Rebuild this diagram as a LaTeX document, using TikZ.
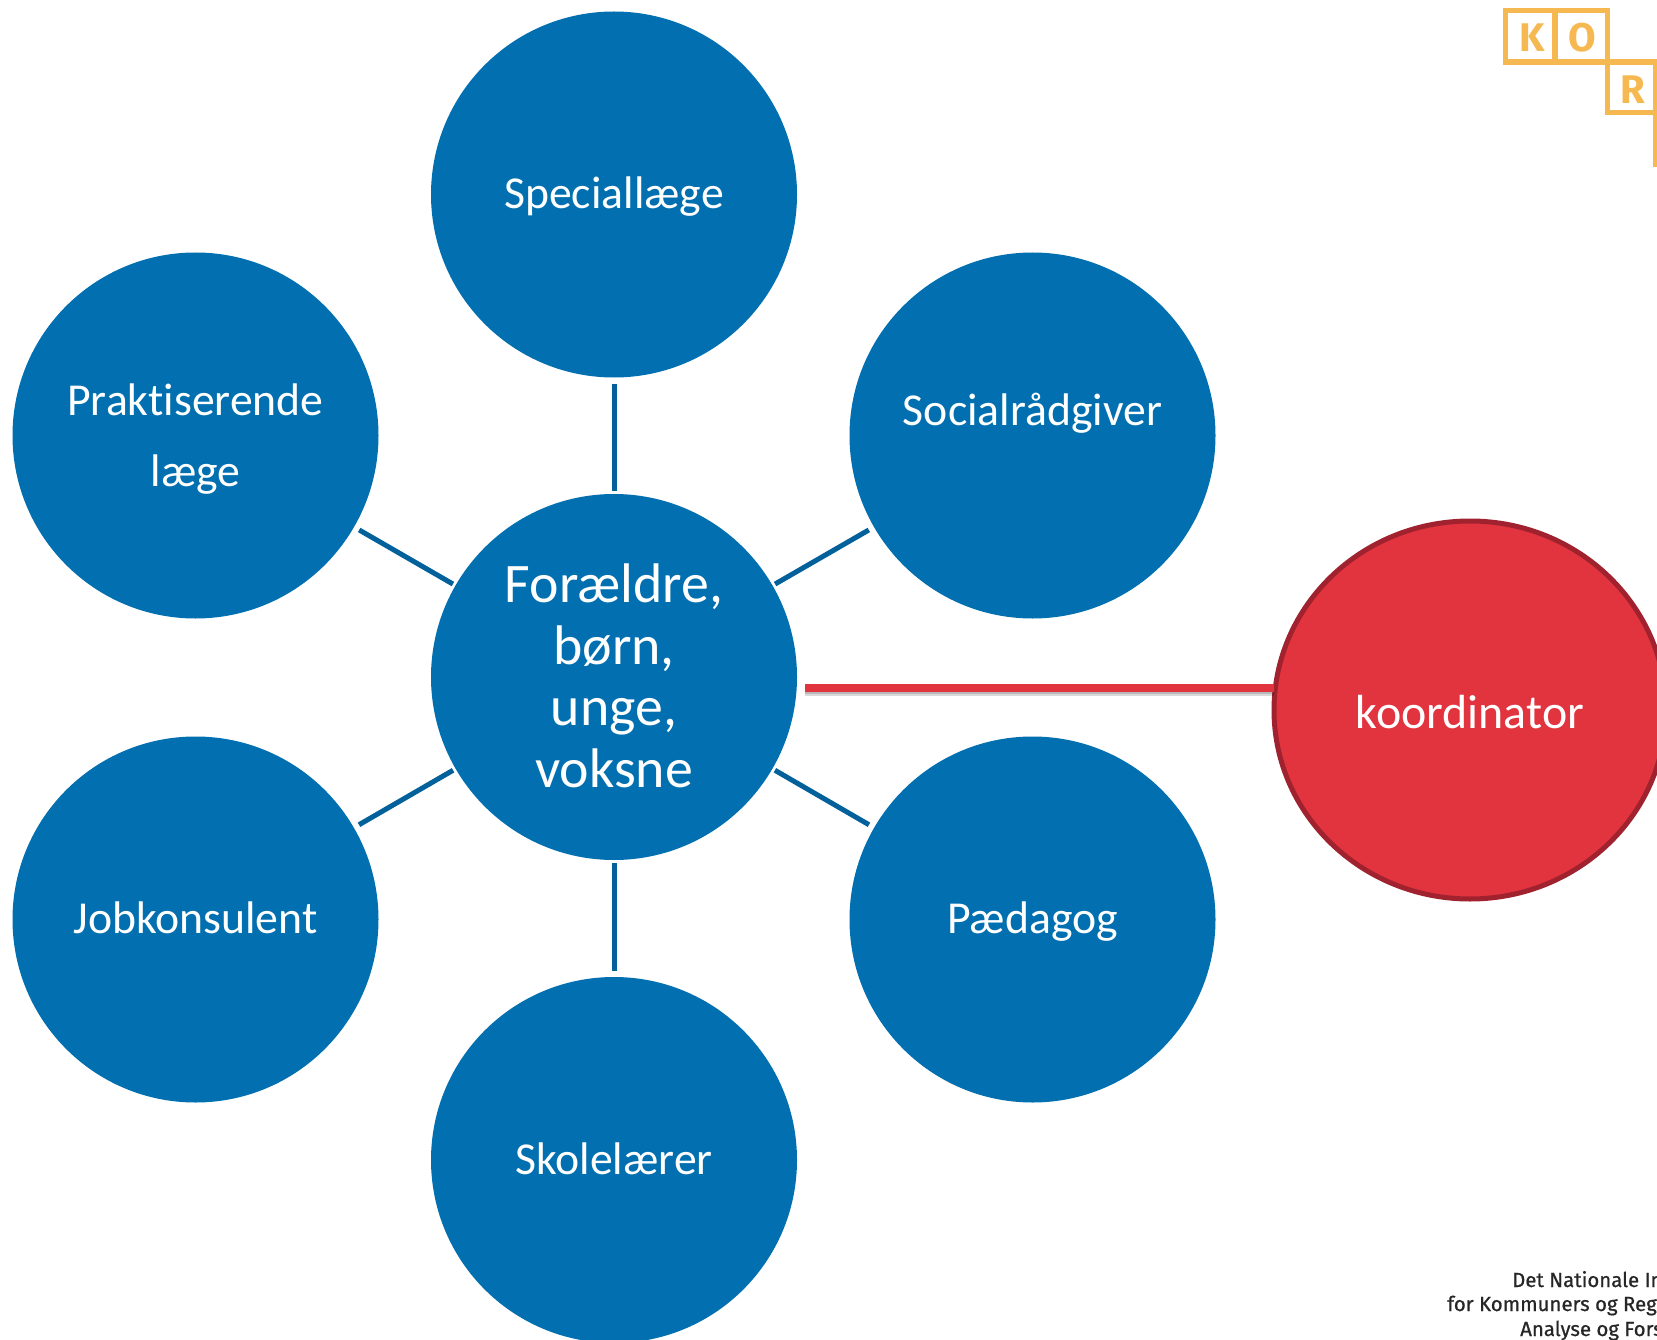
\documentclass[tikz,border=0pt]{standalone}
\usepackage{fontspec}
\setmainfont[Ligatures=NoCommon]{Carlito}
\newfontfamily\logofont{Fira Sans}
\newfontfamily\footfont[FakeBold=0.7]{Fira Sans}
\usetikzlibrary{shapes.geometric,calc}
\definecolor{hubblue}{HTML}{0270B0}
\definecolor{linkblue}{HTML}{02609A}
\definecolor{redfill}{HTML}{E2343F}
\definecolor{redline}{HTML}{A0222E}
\definecolor{korgold}{HTML}{F6B952}
\definecolor{textdark}{HTML}{262626}
\tikzset{
  x=1pt,y=-1pt,
  role/.style={circle,fill=hubblue,text=white,minimum size=366pt,inner sep=0pt,outer sep=0pt,align=center,
    font=\fontsize{45.7}{71}\selectfont},
  oneline/.style={text height=34pt,text depth=6pt},
  hubnode/.style={role,font=\fontsize{55.8}{61.6}\selectfont},
  coord/.style={ellipse,fill=redfill,draw=redline,line width=5pt,text=white,minimum width=392pt,minimum height=378pt,
    inner sep=0pt,outer sep=0pt,align=center,text height=38pt,text depth=1pt,font=\fontsize{47.9}{54}\selectfont},
  link/.style={draw=linkblue,line width=5pt},
  redlink/.style={draw=redfill,line width=8pt},
  redshadow/.style={draw=black,line width=6pt,opacity=.15},
  logobox/.style={draw=korgold,line width=5.5pt},
  logoletter/.style={text=korgold,inner sep=0pt,font=\logofont\bfseries\fontsize{40}{40}\selectfont},
  foot/.style={anchor=base west,inner sep=0pt,text=textdark,font=\footfont\fontsize{20.4}{22}\selectfont},
}
\begin{document}
\begin{tikzpicture}
\useasboundingbox (0,0) rectangle (1657,1340);
\clip (0,0) rectangle (1657,1340);
\fill[white] (0,0) rectangle (1657,1340);

\node[hubnode] (hub) at (614,677) {Forældre,\\børn,\\unge,\\voksne\rule[-3pt]{0pt}{3pt}};
\node[role,oneline] (top) at (614,194.5) {Speciallæge};
\node[role] (tl) at (195.5,435.5) {\rule{0pt}{39pt}Praktiserende\\læge};
\node[role] (tr) at (1032.5,435.5) {Socialrådgiver\\[-19pt]\mbox{}};
\node[role,oneline] (bl) at (195.5,919.5) {Jobkonsulent};
\node[role,oneline] (br) at (1032.5,919.5) {Pædagog};
\node[role,oneline] (bot) at (614,1160) {Skolelærer};
\node[coord] (koord) at (1470,710) {koordinator};

\foreach \t in {top,tl,tr,bl,br,bot}
  \draw[link,shorten <=3pt,shorten >=6pt] (hub) -- (\t);

\coordinate (redstart) at ([shift={(8,11)}]hub.east);
\draw[redshadow] ([yshift=-3pt]redstart) -- ([yshift=-3pt]redstart -| koord.west);
\draw[redshadow] ([yshift=-4.5pt]redstart) -- ([yshift=-4.5pt]redstart -| koord.west);
\draw[redlink] (redstart) -- (redstart -| koord.west);

% KOR logo
\draw[logobox] (1505.5,10.5) rectangle (1555,62);
\draw[logobox] (1555,10.5) rectangle (1607.5,62);
\draw[logobox] (1607.5,62) rectangle (1656,112.5);
\draw[logobox] (1656,112.5) -- (1656,167);
\node[logoletter] (k) at (1532,37.5) {K};
\node[logoletter] (o) at (1582,37.5) {O};
\node[logoletter] (r) at (1633,90) {R};

\node[foot] (f1) at (1512,1287) {Det Nationale In};
\node[foot] (f2) at (1447,1311) {for Kommuners og Reg};
\node[foot] (f3) at (1520,1336) {Analyse og Fors};
\end{tikzpicture}
\end{document}
